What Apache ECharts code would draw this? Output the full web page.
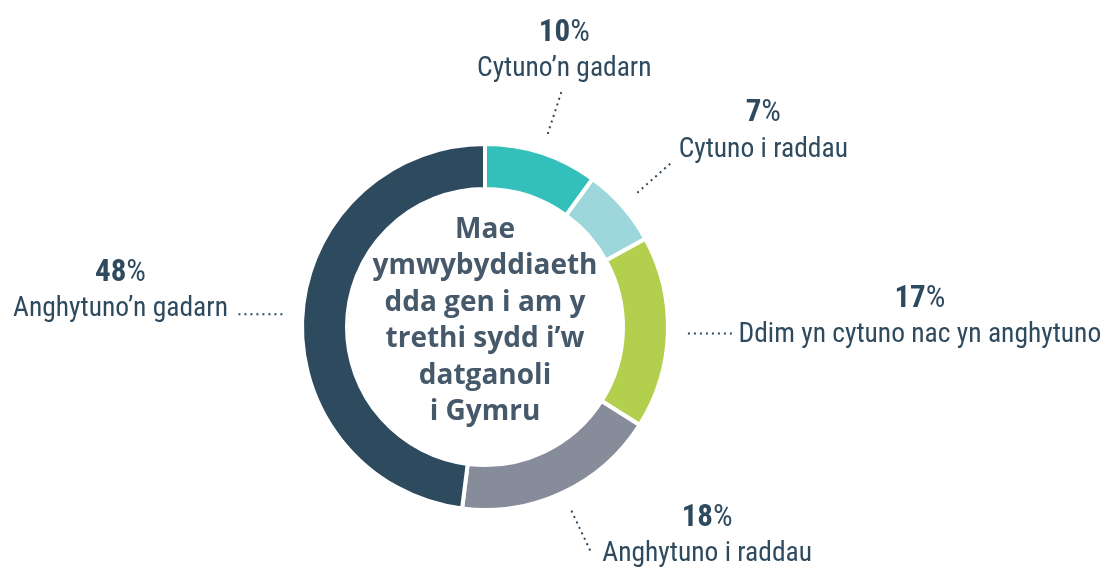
<!DOCTYPE html>
<html>
<head>
<meta charset="utf-8">
<style>html,body{margin:0;padding:0;background:#fff}#c{width:1106px;height:567px}</style>
<script src="https://cdn.jsdelivr.net/npm/echarts@6/dist/echarts.min.js"></script>
</head>
<body>
<div id="c"></div>
<script>
// ---- data ----
const categories = ["Cytuno’n gadarn", "Cytuno i raddau", "Ddim yn cytuno nac yn anghytuno", "Anghytuno i raddau", "Anghytuno’n gadarn"];
const values = [10, 7, 17, 18, 48];
const colors = ['#33bfba', '#9dd7dc', '#b3cf4e', '#878c9b', '#2e4a5f'];
const centerText = 'Mae\nymwybyddiaeth\ndda gen i am y\ntrethi sydd i’w\ndatganoli\ni Gymru';

// ---- layout ----
const CX = 485, CY = 327;
const LABEL_FONT = "'Roboto', 'Open Sans', sans-serif";
const TXT = '#2e4a5f';
// label placement relative to end of leader line: [dx, dy, align, verticalAlign, flattenLine]
const labelPlace = [
  [3, -5, 'center', 'bottom', false],
  [93, 4, 'center', 'bottom', false],
  [188, -16, 'center', 'middle', true],
  [117, -14, 'center', 'middle', false],
  [-118, -23, 'center', 'middle', true]
];

const chart = echarts.init(document.getElementById('c'), null, {renderer: 'canvas'});
const mainData = categories.map((c, i) => ({name: c, value: values[i], itemStyle: {color: colors[i]}}));
const guideData = categories.map((c, i) => ({name: c, value: values[i]}));

chart.setOption({
  animation: false,
  series: [
    {
      type: 'pie',
      center: [CX, CY],
      radius: [138, 183],
      startAngle: 90,
      clockwise: true,
      avoidLabelOverlap: false,
      silent: true,
      itemStyle: {borderColor: '#ffffff', borderWidth: 4},
      label: {show: false},
      labelLine: {show: false},
      data: mainData
    },
    {
      type: 'pie',
      center: [CX, CY],
      radius: [0, 203],
      startAngle: 90,
      clockwise: true,
      avoidLabelOverlap: false,
      silent: true,
      z: 1,
      itemStyle: {color: 'rgba(0,0,0,0)', borderWidth: 0},
      label: {
        show: true,
        position: 'outside',
        formatter: p => '{p|' + p.value + '}{pc|%}\n{n|' + p.name + '}',
        rich: {
          p: {fontFamily: LABEL_FONT, fontWeight: 'bold condensed', fontSize: 31, color: TXT, lineHeight: 36},
          pc: {fontFamily: LABEL_FONT, fontWeight: 'normal condensed', fontSize: 31, color: TXT, lineHeight: 36},
          n: {fontFamily: LABEL_FONT, fontWeight: 'normal condensed', fontSize: 27.5, color: TXT, lineHeight: 36}
        }
      },
      labelLine: {
        show: true,
        length: 44,
        length2: 0,
        lineStyle: {color: TXT, width: 2, type: [2, 4]}
      },
      labelLayout: function (params) {
        const pts = params.labelLinePoints;
        const i = params.dataIndex;
        const pl = labelPlace[i];
        if (!pts) return {};
        const np = pts.map(p => [p[0], p[1]]);
        if (pl[4]) { const y0 = np[0][1]; np.forEach(p => p[1] = y0); }
        const e = np[np.length - 1];
        return {
          x: e[0] + pl[0],
          y: e[1] + pl[1],
          align: pl[2],
          verticalAlign: pl[3],
          labelLinePoints: np
        };
      },
      data: guideData
    }
  ],
  graphic: [{
    type: 'text',
    x: CX,
    y: CY - 6,
    style: {
      text: centerText,
      align: 'center',
      verticalAlign: 'middle',
      fontFamily: "'Open Sans', sans-serif",
      fontWeight: 'bold',
      fontSize: 28,
      lineHeight: 36.5,
      fill: '#46596b'
    }
  }]
});
</script>
</body>
</html>
